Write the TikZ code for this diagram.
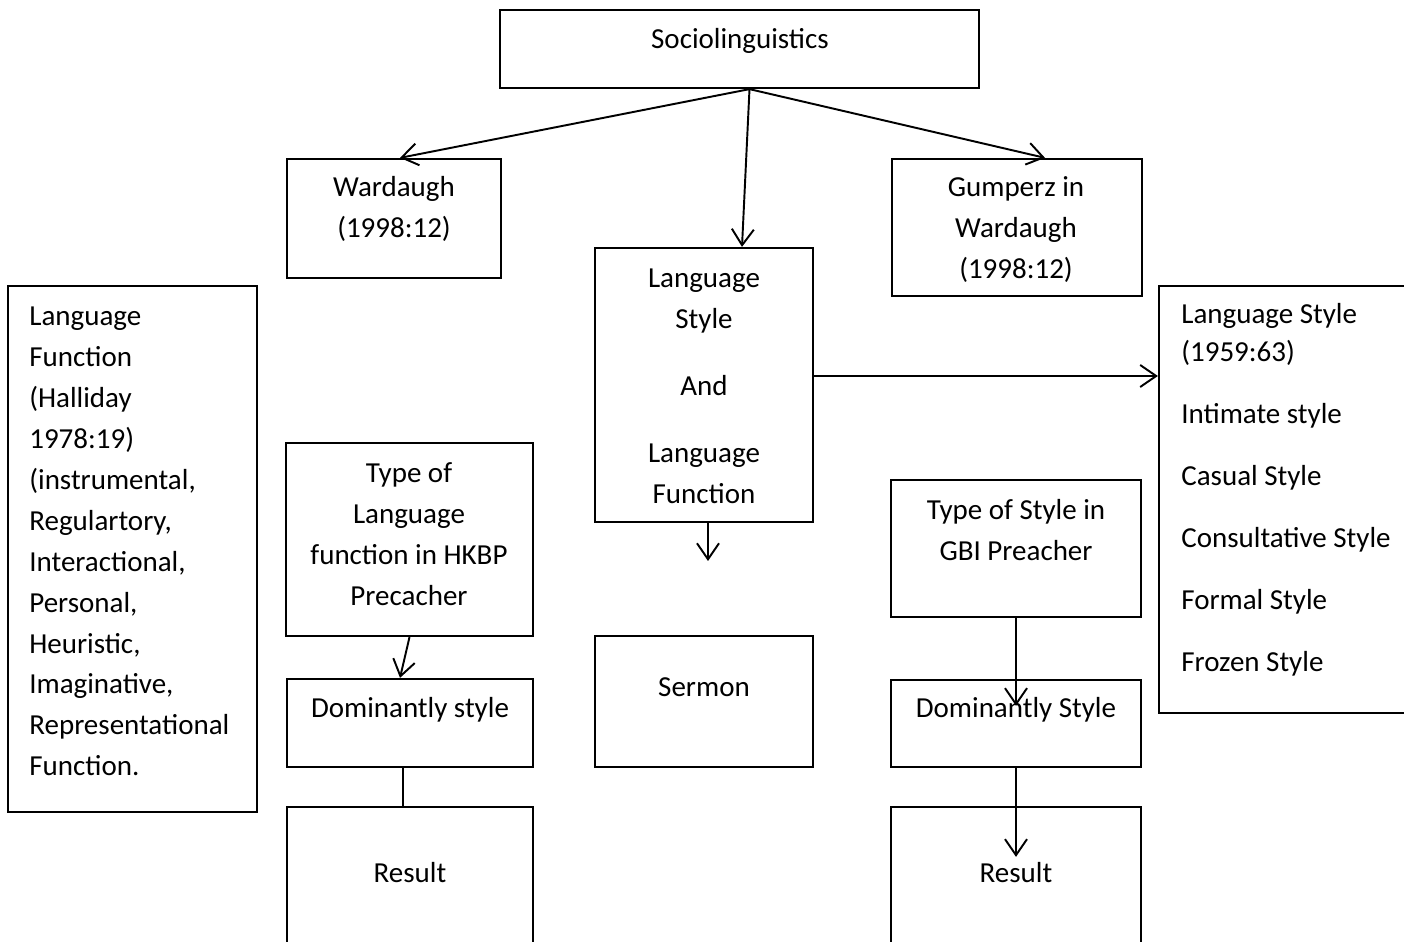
\documentclass[tikz,border=0pt]{standalone}
\usepackage{fontspec}
\setmainfont{Carlito}
\usetikzlibrary{arrows.meta}

\tikzset{
  box/.style 2 args={draw, line width=1.3pt, minimum width=#1, minimum height=#2, inner sep=0pt},
  txt/.style={font=\fontsize{16.5}{23.3}\selectfont, align=center, inner sep=0pt},
  lefttxt/.style={txt, align=left, anchor=west},
  arr/.style={line width=1.1pt, -{Straight Barb[length=0.32cm,width=0.44cm,line width=1.1pt]}},
  link/.style={line width=1.1pt}
}

\begin{document}
\begin{tikzpicture}[x=0.02cm, y=-0.02cm]
    \useasboundingbox (0,0) rectangle (1404,942);
    \clip (0,0) rectangle (1404,942);

    % boxes
    \node[box={9.58cm}{1.56cm}] (socio) at (739.5,49) {};
    \node[box={4.28cm}{2.38cm}] (ward) at (394,218.5) {};
    \node[box={5.00cm}{2.74cm}] (gump) at (1017,227.5) {};
    \node[box={4.36cm}{5.48cm}] (lsbox) at (704,385) {};
    \node[box={5.40cm}{8.54cm}] (styles) at (1294,499.5) {};
    \node[box={4.98cm}{10.52cm}] (funcs) at (132.5,549) {};
    \node[box={4.94cm}{3.86cm}] (typeL) at (409.5,539.5) {};
    \node[box={4.92cm}{1.76cm}] (domL) at (410,723) {};
    \node[box={4.92cm}{2.86cm}] (resL) at (410,878.5) {};
    \node[box={4.36cm}{2.62cm}] (sermon) at (704,701.5) {};
    \node[box={5.00cm}{2.74cm}] (typeS) at (1016,548.5) {};
    \node[box={5.00cm}{1.74cm}] (domS) at (1016,723.5) {};
    \node[box={5.00cm}{2.86cm}] (resS) at (1016,878.5) {};

    % texts
    \node[txt] (socioT) at (740,41) {Sociolinguistics};
    \node[txt] (wardT) at (394,209) {Wardaugh\\(1998:12)};
    \node[txt] (gumpT) at (1016,229.5) {Gumperz in\\Wardaugh\\(1998:12)};
    \node[txt] (lsT) at (704,386.5) {Language\\Style\\[14.8pt]And\\[14.8pt]Language\\Function};
    \node[txt] (typeLT) at (409,534) {Type of\\Language\\function in HKBP\\Precacher};
    \node[txt] (domLT) at (410,710) {Dominantly style};
    \node[txt] (resLT) at (410,873) {Result};
    \node[txt] (sermonT) at (704,687) {Sermon};
    \node[txt] (typeST) at (1016,530.5) {Type of Style in\\GBI Preacher};
    \node[txt] (domST) at (1016,710) {Dominantly Style};
    \node[txt] (resST) at (1016,873) {Result};
    \node[lefttxt] (funcsT) at (29,541.5) {Language\\Function\\(Halliday\\1978:19)\\(instrumental,\\Regulartory,\\Interactional,\\Personal,\\Heuristic,\\Imaginative,\\Representational\\Function.};
    \node[lefttxt] (stylesT) at (1181,489.5) {Language Style\\[-1.7pt](1959:63)\\[12pt]Intimate style\\[12pt]Casual Style\\[12pt]Consultative Style\\[12pt]Formal Style\\[12pt]Frozen Style};

    % connectors
    \coordinate (lsend) at (708,561);
    \draw[arr] ([xshift=0.2cm]socio.south) -- ([xshift=0.12cm]ward.north);
    \draw[arr] ([xshift=0.2cm]socio.south) -- ([xshift=0.76cm]lsbox.north);
    \draw[arr] ([xshift=0.2cm]socio.south) -- ([xshift=0.56cm]gump.north);
    \draw[arr] ([yshift=0.18cm]lsbox.east) -- ([yshift=0.18cm]lsbox.east -| styles.west);
    \draw[arr] ([xshift=0.08cm]lsbox.south) -- (lsend);
    \draw[arr] (typeL.south) -- ([xshift=-0.2cm]domL.north);
    \draw[link] ([xshift=-0.14cm]domL.south) -- ([xshift=-0.14cm]resL.north);
    \draw[arr] (typeS.south) -- ([yshift=-0.54cm]domS.north);
    \draw[arr] (domS.south) -- ([yshift=-1.02cm]resS.north);
\end{tikzpicture}
\end{document}
